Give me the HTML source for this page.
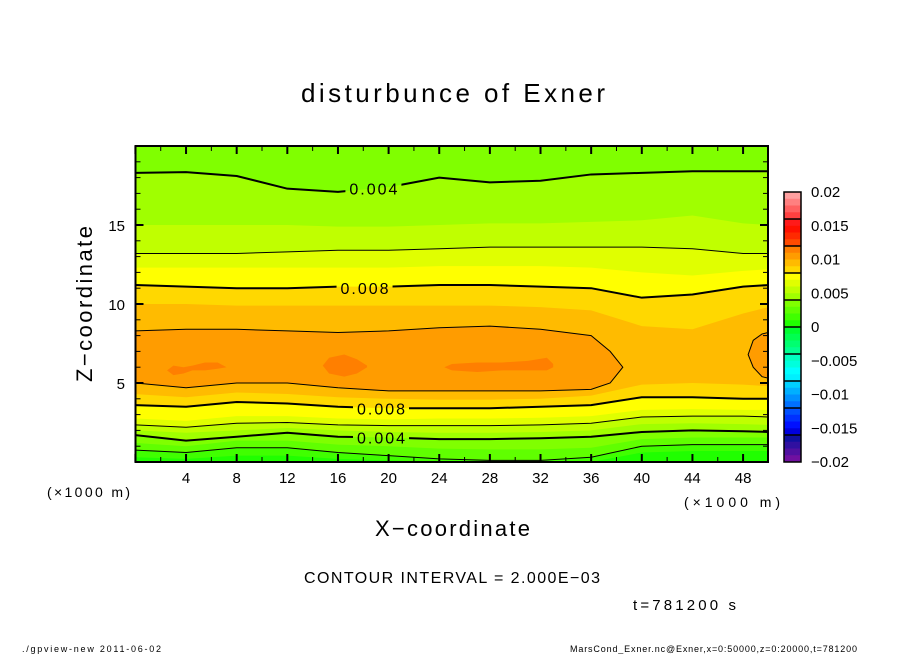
<!DOCTYPE html>
<html><head><meta charset="utf-8">
<style>
html,body{margin:0;padding:0;background:#fff;}
svg{display:block;font-family:"Liberation Sans",sans-serif;}
</style></head>
<body>
<svg id="chart" width="904" height="654" viewBox="0 0 904 654" xmlns="http://www.w3.org/2000/svg">
<defs>
  <clipPath id="plotClip"><rect x="135.5" y="146" width="632.5" height="316"/></clipPath>
  <mask id="labelMask">
    <rect x="0" y="0" width="904" height="654" fill="#fff"/>
    <g id="maskHoles"></g>
  </mask>
</defs>
<text x="301" y="102" font-size="26" textLength="304" lengthAdjust="spacing">disturbunce of Exner</text>
<g id="fills" clip-path="url(#plotClip)"></g>
<g id="lines" clip-path="url(#plotClip)" mask="url(#labelMask)"></g>
<g id="clabels"></g>
<g id="axes"></g>
<text transform="translate(92,382) rotate(-90)" font-size="22" textLength="156" lengthAdjust="spacing">Z−coordinate</text>
<text x="375" y="536" font-size="22" textLength="155" lengthAdjust="spacing">X−coordinate</text>
<text x="47" y="497" font-size="14" textLength="83" lengthAdjust="spacing">(×1000 m)</text>
<text x="684" y="507" font-size="14" textLength="96" lengthAdjust="spacing">(×1000 m)</text>
<text x="304" y="583" font-size="16" textLength="296" lengthAdjust="spacing">CONTOUR INTERVAL = 2.000E−03</text>
<text x="633" y="610" font-size="15" textLength="103" lengthAdjust="spacing">t=781200 s</text>
<text x="22" y="652" font-size="9" textLength="139" lengthAdjust="spacing">./gpview-new   2011-06-02</text>
<text x="570" y="652" font-size="9" textLength="287" lengthAdjust="spacing">MarsCond_Exner.nc@Exner,x=0:50000,z=0:20000,t=781200</text>
<g id="colorbar"></g>
</svg>
<script>
// ---- data ----
const xCols = [0,4,8,12,16,20,24,28,32,36,40,44,48,50];
const lvl001Lo = [0.3,0.2,0.4,0.4,0.2,0.1,0,0,0,0,0.6,0.7,0.7,0.7];
const lvl002Lo = [0.75,0.6,0.9,0.9,0.6,0.4,0.2,0.1,0.1,0.3,1.0,1.1,1.1,1.1];
const lvl003Lo = [1.2,1.0,1.35,1.35,1.1,1.0,0.85,0.8,0.8,0.9,1.45,1.55,1.55,1.55];
const lvl004Lo = [1.7,1.35,1.6,1.85,1.6,1.55,1.45,1.45,1.5,1.6,1.9,2.0,1.95,1.9];
const lvl004Up = [18.3,18.35,18.1,17.3,17.1,17.4,18.0,17.7,17.8,18.2,18.3,18.4,18.4,18.4];
const lvl005Lo = [2.0,1.85,2.0,2.15,2.0,1.9,1.85,1.85,1.9,2.0,2.4,2.45,2.4,2.35];
const lvl005Up = [15.0,15.0,15.0,15.0,14.9,14.9,15.0,15.1,15.1,15.2,15.3,15.6,15.1,15.0];
const lvl006Lo = [2.35,2.2,2.45,2.5,2.35,2.3,2.3,2.3,2.35,2.45,2.85,2.9,2.9,2.85];
const lvl006Up = [13.2,13.2,13.2,13.3,13.4,13.4,13.5,13.6,13.6,13.6,13.6,13.5,13.2,13.2];
const lvl007Lo = [2.75,2.6,2.9,2.9,2.75,2.7,2.75,2.75,2.8,2.9,3.3,3.35,3.3,3.3];
const lvl007Up = [12.3,12.3,12.3,12.3,12.3,12.3,12.4,12.4,12.4,12.3,12.0,11.8,12.1,12.2];
const lvl008Lo = [3.6,3.5,3.8,3.7,3.5,3.4,3.4,3.4,3.5,3.6,4.1,4.1,4.0,4.0];
const lvl008Up = [11.2,11.1,11.0,11.0,11.1,11.1,11.2,11.2,11.1,11.0,10.4,10.6,11.1,11.2];
const lvl009Lo = [4.3,4.1,4.4,4.3,4.1,4.0,3.95,3.95,4.0,4.2,4.9,5.0,4.9,4.8];
const lvl009Up = [10.0,10.0,9.9,9.9,9.9,9.9,9.9,9.9,9.8,9.6,8.6,8.4,9.4,9.8];
const blob010aX = [0,4,8,12,16,20,24,28,32,36,37.5,38.5];
const blob010aUp = [8.3,8.4,8.4,8.3,8.2,8.3,8.5,8.6,8.4,8.0,7.0,6.0];
const blob010aLo = [5.0,4.7,5.0,5.0,4.7,4.5,4.5,4.5,4.5,4.6,5.0,6.0];
const blob010bX = [48.4,48.8,49.5,50];
const blob010bUp = [6.8,7.7,8.1,8.2];
const blob010bLo = [6.8,6.0,5.4,5.3];
const blob011aX = [2.5,3.0,3.8,4.5,5.5,6.5,7.2];
const blob011aUp = [5.8,6.1,6.0,6.1,6.3,6.3,6.0];
const blob011aLo = [5.8,5.5,5.6,5.8,5.8,5.9,6.0];
const blob011bX = [14.8,15.3,16.5,17.5,18.3];
const blob011bUp = [6.1,6.6,6.8,6.5,6.1];
const blob011bLo = [6.1,5.6,5.4,5.6,6.0];
const blob011cX = [24.4,25,27,29,31,32.5,33];
const blob011cUp = [6.0,6.2,6.3,6.3,6.4,6.6,6.2];
const blob011cLo = [6.0,5.8,5.7,5.8,5.8,5.8,6.0];
const xTickLabels = [4,8,12,16,20,24,28,32,36,40,44,48];
const zTickLabels = [5,10,15];
const cbarTickValues = [0.02,0.015,0.01,0.005,0,-0.005,-0.01,-0.015,-0.02];
const cbarTickLabels = ["0.02","0.015","0.01","0.005","0","−0.005","−0.01","−0.015","−0.02"];
const contourLabelText = ["0.004","0.008","0.008","0.004"];
const contourLabelX = [18.8,18.1,19.4,19.4];
const contourLabelZ = [17.3,11.0,3.4,1.55];

// palette (visual style), index 0 = top band 0.019..0.02
const palette = ["#ffa0a0","#ff8080","#ff6060","#ff4040","#ff1a1a","#ff1000","#ff2a00","#ff4a00",
 "#ff7f00","#ff9c00","#ffbb00","#ffd800","#ffff00","#e0ff00","#c0ff00","#a0ff00",
 "#80ff00","#60ff00","#40ff00","#20ff00","#00ff30","#00ff50","#00ff70","#00ff90",
 "#00ffc0","#00ffdd","#00ffff","#00f0ff","#00d0ff","#00b0ff","#0090ff","#0070ff",
 "#0050ff","#0030ff","#0010ff","#0000dd","#1010a0","#3010a0","#5010a0","#7010a0"];
function colorFor(v){
  let i = Math.round((0.02 - v)/0.001) - 1;
  return palette[Math.max(0,Math.min(39,i))];
}

const NS="http://www.w3.org/2000/svg";
const X0=135.4, XS=12.66, Z0=462, ZS=15.8;
const xPx = v => X0 + v*XS;
const zPx = v => Z0 - v*ZS;
function mk(tag, attrs, parent){ const e=document.createElementNS(NS,tag); for(const k in attrs) e.setAttribute(k,attrs[k]); parent.appendChild(e); return e; }

const fills=document.getElementById('fills');
const lines=document.getElementById('lines');

let bg = mk('rect',{x:135,y:145,width:634,height:318,fill:colorFor(0.0)},fills);



function openPoly(xs, lo, up){
  const pts=[];
  xs.forEach((x,i)=>pts.push(xPx(x)+','+zPx(lo[i])));
  for(let i=xs.length-1;i>=0;i--) pts.push(xPx(xs[i])+','+zPx(up?up[i]:21));
  return pts.join(' ');
}
function closedPoly(xs, lo, up){
  const pts=[];
  xs.forEach((x,i)=>pts.push(xPx(x)+','+zPx(up[i])));
  for(let i=xs.length-1;i>=0;i--) pts.push(xPx(xs[i])+','+zPx(lo[i]));
  return pts.join(' ');
}
function lineStr(xs, arr){ return xs.map((x,i)=>xPx(x)+','+zPx(arr[i])).join(' '); }

const openLevels = [
  [0.001,lvl001Lo,null],[0.002,lvl002Lo,null],[0.003,lvl003Lo,null],
  [0.004,lvl004Lo,lvl004Up],[0.005,lvl005Lo,lvl005Up],[0.006,lvl006Lo,lvl006Up],
  [0.007,lvl007Lo,lvl007Up],[0.008,lvl008Lo,lvl008Up],[0.009,lvl009Lo,lvl009Up]];
openLevels.forEach(([v,lo,up])=>{
  const p=mk('polygon',{points:openPoly(xCols,lo,up),fill:colorFor(v)},fills);
  
  
});
const closedLevels = [
  [0.010,blob010aX,blob010aLo,blob010aUp],[0.010,blob010bX,blob010bLo,blob010bUp],
  [0.011,blob011aX,blob011aLo,blob011aUp],[0.011,blob011bX,blob011bLo,blob011bUp],
  [0.011,blob011cX,blob011cLo,blob011cUp]];
closedLevels.forEach(([v,xs,lo,up])=>{
  const p=mk('polygon',{points:closedPoly(xs,lo,up),fill:colorFor(v)},fills);
  
  
});

function drawLine(pts, w, name){
  const l=mk('polyline',{points:pts,fill:'none',stroke:'#000','stroke-width':w,'stroke-linejoin':'round'},lines);
  
  
}
drawLine(lineStr(xCols,lvl002Lo),1,'contour-0.002-lower');
drawLine(lineStr(xCols,lvl004Lo),2,'contour-0.004-lower');
drawLine(lineStr(xCols,lvl004Up),2,'contour-0.004-upper');
drawLine(lineStr(xCols,lvl006Lo),1,'contour-0.006-lower');
drawLine(lineStr(xCols,lvl006Up),1,'contour-0.006-upper');
drawLine(lineStr(xCols,lvl008Lo),2,'contour-0.008-lower');
drawLine(lineStr(xCols,lvl008Up),2,'contour-0.008-upper');
[[blob010aX,blob010aLo,blob010aUp],[blob010bX,blob010bLo,blob010bUp]].forEach(([xs,lo,up],i)=>{
  const p=mk('polygon',{points:closedPoly(xs,lo,up),fill:'none',stroke:'#000','stroke-width':1},lines);
  
  
});

const holes=document.getElementById('maskHoles');
const cl=document.getElementById('clabels');
contourLabelText.forEach((t,i)=>{
  const cx=xPx(contourLabelX[i]), cy=zPx(contourLabelZ[i]);
  mk('rect',{x:cx-28,y:cy-9,width:56,height:18,fill:'#000'},holes);
  const tx=mk('text',{x:cx-24,y:cy+6,'font-size':16,textLength:48,lengthAdjust:'spacing'},cl);
  tx.textContent=t;
  
  
});

const ax=document.getElementById('axes');
const fr=mk('rect',{x:135.5,y:146,width:632.5,height:316,fill:'none',stroke:'#000','stroke-width':2},ax);


for(let v=0; v<=50; v+=2){
  const major = v%4===0, len = major?8:5, x=xPx(v);
  mk('line',{x1:x,y1:462,x2:x,y2:462-len,stroke:'#000','stroke-width':major?2:1},ax);
  mk('line',{x1:x,y1:146,x2:x,y2:146+len,stroke:'#000','stroke-width':major?2:1},ax);
}
for(let v=0; v<=20; v+=1){
  const major = v%5===0, len = major?8:5, y=zPx(v);
  mk('line',{x1:135.5,y1:y,x2:135.5+len,y2:y,stroke:'#000','stroke-width':major?2:1},ax);
  mk('line',{x1:768,y1:y,x2:768-len,y2:y,stroke:'#000','stroke-width':major?2:1},ax);
}
xTickLabels.forEach(v=>{
  const t=mk('text',{x:xPx(v),y:483,'text-anchor':'middle','font-size':15},ax);
  t.textContent=v;
  
  
});
zTickLabels.forEach(v=>{
  const t=mk('text',{x:125,y:zPx(v)+6,'text-anchor':'end','font-size':15},ax);
  t.textContent=v;
  
  
});

const cb=document.getElementById('colorbar');
const CB_X=784, CB_W=17, CB_TOP=192, CB_BOT=462;
const cbY = v => CB_TOP + (0.02 - v)/0.04*(CB_BOT-CB_TOP);
palette.forEach((c,i)=>{
  const vTop=0.02-i*0.001;
  const r=mk('rect',{x:CB_X,y:cbY(vTop),width:CB_W,height:cbY(vTop-0.001)-cbY(vTop)+0.3,fill:c},cb);
  
  
});
for(let k=1;k<10;k++){
  const y=cbY(0.02-k*0.004);
  mk('line',{x1:CB_X,y1:y,x2:CB_X+CB_W,y2:y,stroke:'#000','stroke-width':1.5},cb);
}
const cbf=mk('rect',{x:CB_X,y:CB_TOP,width:CB_W,height:CB_BOT-CB_TOP,fill:'none',stroke:'#000','stroke-width':1.5},cb);


cbarTickValues.forEach((v,i)=>{
  const t=mk('text',{x:811,y:cbY(v)+5,'font-size':15},cb);
  t.textContent=cbarTickLabels[i];
  
  
});
</script>
</body></html>
